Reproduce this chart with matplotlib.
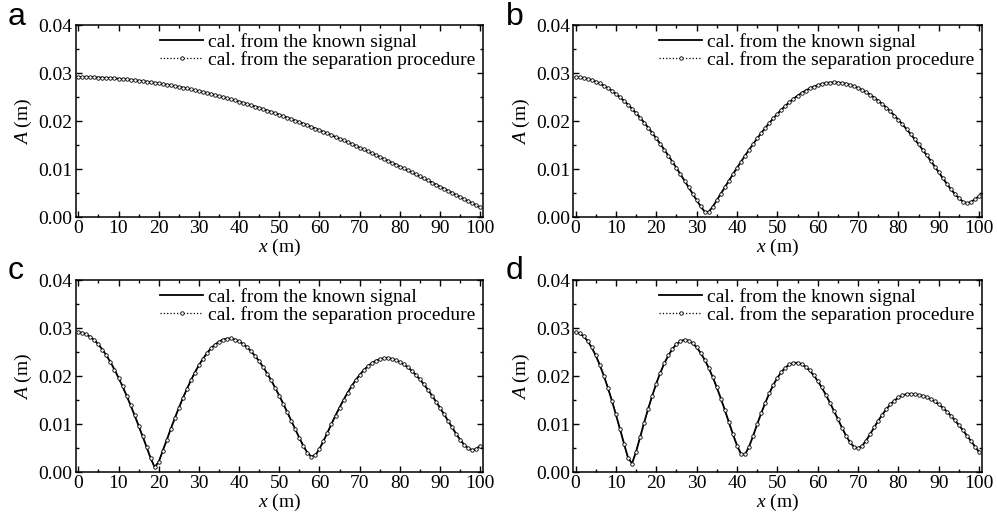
import numpy as np
import matplotlib
matplotlib.use("Agg")
import matplotlib.pyplot as plt
from matplotlib.ticker import MultipleLocator, FormatStrFormatter

plt.rcParams['font.family'] = ['Liberation Serif', 'DejaVu Serif']
plt.rcParams['mathtext.fontset'] = 'custom'
plt.rcParams['mathtext.it'] = 'Liberation Serif:italic'
plt.rcParams['mathtext.rm'] = 'Liberation Serif'

# sampling positions along the line (m)
x_m = np.arange(0, 101)

# amplitudes in mm
A_a = [29.20, 29.20, 29.19, 29.17, 29.15, 29.12, 29.08, 29.04, 28.99, 28.93,
       28.87, 28.80, 28.73, 28.65, 28.56, 28.46, 28.36, 28.26, 28.14, 28.02,
       27.90, 27.76, 27.62, 27.48, 27.33, 27.17, 27.01, 26.84, 26.66, 26.48,
       26.29, 26.10, 25.90, 25.69, 25.48, 25.27, 25.05, 24.82, 24.58, 24.34,
       24.10, 23.85, 23.59, 23.33, 23.07, 22.80, 22.52, 22.24, 21.95, 21.66,
       21.37, 21.06, 20.76, 20.45, 20.13, 19.81, 19.49, 19.16, 18.83, 18.49,
       18.15, 17.81, 17.46, 17.10, 16.75, 16.39, 16.02, 15.65, 15.28, 14.91,
       14.53, 14.15, 13.76, 13.38, 12.98, 12.59, 12.19, 11.79, 11.39, 10.99,
       10.58, 10.17, 9.76, 9.35, 8.93, 8.51, 8.09, 7.67, 7.25, 6.82,
       6.40, 5.97, 5.54, 5.11, 4.67, 4.24, 3.81, 3.37, 2.94, 2.50, 2.07]

A_b = [29.20, 29.15, 29.03, 28.85, 28.59, 28.27, 27.89, 27.44, 26.93, 26.36,
       25.72, 25.03, 24.28, 23.48, 22.62, 21.71, 20.75, 19.74, 18.69, 17.59,
       16.45, 15.28, 14.07, 12.83, 11.58, 10.29, 8.95, 7.63, 6.28, 4.92,
       3.57, 2.27, 1.16, 1.13, 2.23, 3.55, 4.91, 6.27, 7.63, 8.97,
       10.28, 11.58, 12.84, 14.07, 15.26, 16.42, 17.54, 18.61, 19.64, 20.62,
       21.54, 22.42, 23.23, 23.99, 24.69, 25.33, 25.90, 26.41, 26.85, 27.22,
       27.52, 27.78, 27.96, 28.06, 28.10, 28.07, 27.98, 27.82, 27.59, 27.30,
       26.95, 26.54, 26.06, 25.53, 24.94, 24.29, 23.61, 22.85, 22.05, 21.20,
       20.30, 19.36, 18.38, 17.35, 16.29, 15.20, 14.08, 12.93, 11.76, 10.57,
       9.36, 8.15, 6.96, 5.85, 4.85, 3.95, 3.25, 2.92, 3.20, 3.80, 4.44]

A_c = [29.20, 29.07, 28.74, 28.22, 27.52, 26.63, 25.57, 24.34, 22.95, 21.41,
       19.73, 17.92, 16.00, 13.98, 11.88, 9.71, 7.49, 5.24, 2.94, 1.07,
       2.18, 4.44, 6.75, 9.03, 11.25, 13.38, 15.42, 17.34, 19.13, 20.79,
       22.30, 23.64, 24.81, 25.80, 26.60, 27.22, 27.64, 27.86, 27.88, 27.66,
       27.28, 26.74, 26.05, 25.21, 24.23, 23.16, 21.93, 20.58, 19.14, 17.59,
       15.97, 14.25, 12.52, 10.74, 8.95, 7.17, 5.50, 4.08, 3.29, 3.60,
       4.86, 6.52, 8.29, 10.08, 11.83, 13.50, 15.09, 16.57, 17.95, 19.19,
       20.29, 21.26, 22.07, 22.73, 23.23, 23.57, 23.75, 23.78, 23.64, 23.38,
       22.98, 22.49, 21.87, 21.13, 20.28, 19.34, 18.31, 17.19, 16.00, 14.74,
       13.44, 12.10, 10.74, 9.39, 8.02, 6.82, 5.76, 4.98, 4.65, 4.85, 5.53]

A_d = [29.20, 28.95, 28.33, 27.35, 26.02, 24.35, 22.38, 20.14, 17.65, 14.94,
       12.05, 9.05, 5.99, 3.06, 1.83, 4.29, 7.33, 10.34, 13.24, 15.96,
       18.47, 20.73, 22.70, 24.35, 25.69, 26.69, 27.32, 27.59, 27.44, 26.90,
       26.04, 24.87, 23.45, 21.75, 19.82, 17.68, 15.37, 12.94, 10.44, 7.93,
       5.58, 3.84, 3.71, 5.34, 7.62, 10.00, 12.31, 14.47, 16.44, 18.19,
       19.68, 20.90, 21.83, 22.46, 22.79, 22.83, 22.53, 21.98, 21.22, 20.22,
       19.04, 17.68, 16.17, 14.54, 12.82, 11.07, 9.32, 7.65, 6.24, 5.28,
       5.01, 5.53, 6.62, 7.96, 9.37, 10.74, 12.02, 13.16, 14.14, 14.95,
       15.59, 16.03, 16.28, 16.34, 16.22, 16.13, 15.95, 15.65, 15.24, 14.76,
       14.15, 13.45, 12.66, 11.78, 10.82, 9.80, 8.72, 7.61, 6.49, 5.33, 4.23]

panel_letters = ['a', 'b', 'c', 'd']
panel_data = [A_a, A_b, A_c, A_d]
label_known = 'cal. from the known signal'
label_sep = 'cal. from the separation procedure'

W, H = 997, 515
fig = plt.figure(figsize=(W / 100, H / 100), dpi=100)

def rect(l, r, t, b):
    return [l / W, 1 - b / H, (r - l) / W, (b - t) / H]

rects = [rect(75.5, 483, 25.3, 217.3), rect(572.7, 982, 25.3, 217.3),
         rect(75.5, 483, 280.3, 472.3), rect(572.7, 982, 280.3, 472.3)]
letter_pos = [(8, 17), (506, 17), (8, 271), (506, 271)]

FS = 14
for rc, letter, vals, lp in zip(rects, panel_letters, panel_data, letter_pos):
    ax = fig.add_axes(rc)
    y = np.array(vals) / 1000.0
    ax.plot(x_m, y, '-', color='black', lw=1.3, label=label_known, zorder=2)
    ax.plot(x_m, y, ':', color='black', lw=0.9, marker='o', ms=2.5,
            mfc='white', mec='black', mew=0.6, label=label_sep, zorder=3)
    ax.set_xlim(-0.7, 100.7)
    ax.set_ylim(0, 0.04)
    ax.xaxis.set_major_locator(MultipleLocator(10))
    ax.xaxis.set_minor_locator(MultipleLocator(5))
    ax.yaxis.set_major_locator(MultipleLocator(0.01))
    ax.yaxis.set_minor_locator(MultipleLocator(0.005))
    ax.yaxis.set_major_formatter(FormatStrFormatter('%.2f'))
    ax.tick_params(which='both', direction='in', top=True, right=True,
                   labelsize=FS, width=1.0, pad=2)
    ax.tick_params(which='major', length=4)
    ax.tick_params(which='minor', length=2.5)
    for s in ax.spines.values():
        s.set_linewidth(1.1)
    ax.set_xlabel(r'$x$ (m)', fontsize=FS, labelpad=0)
    ax.set_ylabel(r'$A$ (m)', fontsize=FS, labelpad=3)
    ax.legend(loc='upper right', bbox_to_anchor=(1.0, 1.0), frameon=False,
              fontsize=FS, handlelength=2.2, handletextpad=0.25,
              labelspacing=0.0, borderaxespad=0.2, numpoints=1,
              borderpad=0.2)
    fig.text(lp[0] / W, 1 - lp[1] / H, letter, fontsize=23,
             family=['Liberation Sans', 'DejaVu Sans'], va='center', ha='left')

fig.savefig('out.png', dpi=100)
